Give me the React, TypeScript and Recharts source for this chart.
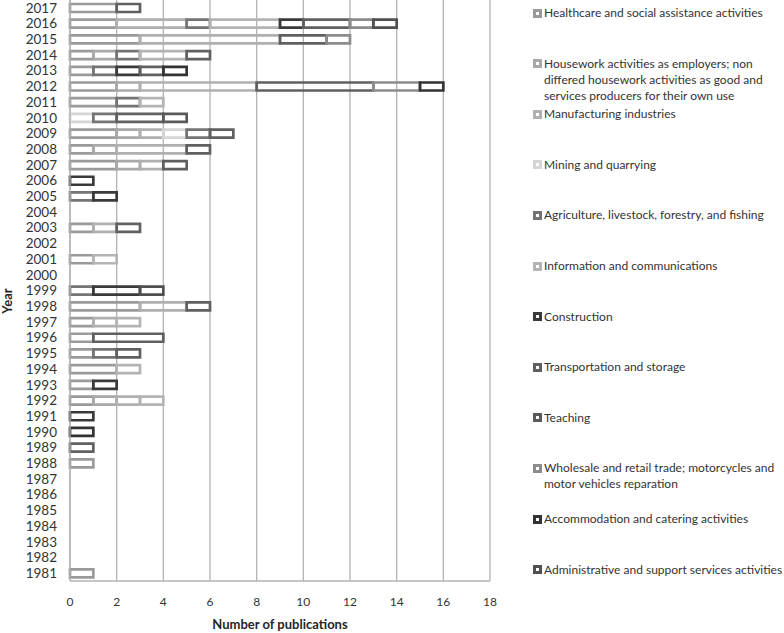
import React from "react";
import {
  BarChart,
  Bar,
  XAxis,
  YAxis,
  CartesianGrid,
  Legend,
} from "recharts";

// years 1981..2017, index 0 = 1981
const years = Array.from({ length: 37 }, (_, i) => String(1981 + i));

// publications per year and sector
const healthcare = [
  1, 0, 0, 0, 0, 0, 0, 1, 0, 0,
  0, 1, 1, 2, 1, 1, 1, 3, 0, 0,
  1, 0, 1, 0, 0, 0, 2, 1, 2, 0,
  2, 2, 1, 1, 3, 2, 2,
];
const housework = [
  0, 0, 0, 0, 0, 0, 0, 0, 0, 0,
  0, 1, 0, 0, 0, 0, 0, 0, 0, 0,
  0, 0, 0, 0, 0, 0, 1, 1, 1, 0,
  0, 1, 0, 1, 0, 0, 0,
];
const manufacturing = [
  0, 0, 0, 0, 0, 0, 0, 0, 0, 0,
  0, 1, 0, 0, 0, 0, 1, 2, 0, 0,
  0, 0, 1, 0, 0, 0, 1, 3, 1, 0,
  0, 5, 0, 0, 6, 3, 0,
];
const mining = [
  0, 0, 0, 0, 0, 0, 0, 0, 0, 0,
  0, 0, 0, 0, 0, 0, 0, 0, 0, 0,
  0, 0, 0, 0, 0, 0, 0, 0, 1, 1,
  0, 0, 0, 0, 0, 0, 0,
];
const agriculture = [
  0, 0, 0, 0, 0, 0, 0, 0, 0, 0,
  0, 0, 0, 0, 1, 0, 0, 0, 1, 0,
  0, 0, 0, 0, 1, 0, 0, 0, 1, 1,
  1, 0, 1, 1, 0, 1, 0,
];
const information = [
  0, 0, 0, 0, 0, 0, 0, 0, 0, 0,
  0, 1, 0, 1, 0, 0, 1, 0, 0, 0,
  1, 0, 0, 0, 0, 0, 0, 0, 0, 0,
  1, 0, 0, 2, 0, 3, 0,
];
const construction = [
  0, 0, 0, 0, 0, 0, 0, 0, 0, 0,
  1, 0, 1, 0, 0, 0, 0, 0, 2, 0,
  0, 0, 0, 0, 1, 1, 0, 0, 0, 0,
  0, 0, 1, 0, 0, 1, 0,
];
const transportation = [
  0, 0, 0, 0, 0, 0, 0, 0, 1, 0,
  0, 0, 0, 0, 1, 3, 0, 1, 0, 0,
  0, 0, 1, 0, 0, 0, 1, 1, 1, 2,
  0, 5, 1, 1, 2, 2, 1,
];
const teaching = [
  0, 0, 0, 0, 0, 0, 0, 0, 0, 0,
  0, 0, 0, 0, 0, 0, 0, 0, 0, 0,
  0, 0, 0, 0, 0, 0, 0, 0, 0, 1,
  0, 0, 0, 0, 0, 0, 0,
];
const wholesale = [
  0, 0, 0, 0, 0, 0, 0, 0, 0, 0,
  0, 0, 0, 0, 0, 0, 0, 0, 0, 0,
  0, 0, 0, 0, 0, 0, 0, 0, 0, 0,
  0, 2, 0, 0, 1, 1, 0,
];
const accommodation = [
  0, 0, 0, 0, 0, 0, 0, 0, 0, 1,
  0, 0, 0, 0, 0, 0, 0, 0, 0, 0,
  0, 0, 0, 0, 0, 0, 0, 0, 0, 0,
  0, 1, 1, 0, 0, 0, 0,
];
const administrative = [
  0, 0, 0, 0, 0, 0, 0, 0, 0, 0,
  0, 0, 0, 0, 0, 0, 0, 0, 1, 0,
  0, 0, 0, 0, 0, 0, 0, 0, 0, 0,
  0, 0, 0, 0, 0, 1, 0,
];

const xTicks = [0, 2, 4, 6, 8, 10, 12, 14, 16, 18];

const SERIES = [
  { key: "healthcare", name: "Healthcare and social assistance activities", values: healthcare, color: "#9a9a9a" },
  { key: "housework", name: "Housework activities as employers; non differed housework activities as good and services producers for their own use", values: housework, color: "#a8a8a8" },
  { key: "manufacturing", name: "Manufacturing industries", values: manufacturing, color: "#b0b0b0" },
  { key: "mining", name: "Mining and quarrying", values: mining, color: "#d6d6d6" },
  { key: "agriculture", name: "Agriculture, livestock, forestry, and fishing", values: agriculture, color: "#747474" },
  { key: "information", name: "Information and communications", values: information, color: "#b4b4b4" },
  { key: "construction", name: "Construction", values: construction, color: "#3a3a3a" },
  { key: "transportation", name: "Transportation and storage", values: transportation, color: "#606060" },
  { key: "teaching", name: "Teaching", values: teaching, color: "#5a5a5a" },
  { key: "wholesale", name: "Wholesale and retail trade; motorcycles and motor vehicles reparation", values: wholesale, color: "#8c8c8c" },
  { key: "accommodation", name: "Accommodation and catering activities", values: accommodation, color: "#333333" },
  { key: "administrative", name: "Administrative and support services activities", values: administrative, color: "#505050" },
];

const data = years.map((year, i) => {
  const row: Record<string, string | number> = { year };
  SERIES.forEach((s) => {
    row[s.key] = s.values[i];
  });
  return row;
});

const FONT = "Lato, 'Open Sans', sans-serif";

const LegendBox = () => (
  <div style={{ position: "relative", width: 259, height: 633, fontFamily: FONT, fontSize: 12, color: "#333" }}>
    {SERIES.map((s, i) => (
      <div
        key={s.key}
        style={{
          position: "absolute",
          left: 8,
          top: 5 + i * 50.6,
          display: "flex",
          alignItems: "flex-start",
          lineHeight: "16px",
          width: 252,
        }}
      >
        <span
          style={{
            width: 3,
            height: 3,
            border: `3px solid ${s.color}`,
            background: "#fff",
            marginTop: 3.5,
            marginRight: 2,
            flex: "none",
          }}
        />
        <span>{s.name}</span>
      </div>
    ))}
  </div>
);

const YearLabel = () => (
  <text
    x={12}
    y={301}
    transform="rotate(-90 12 301)"
    textAnchor="middle"
    fontFamily={FONT}
    fontWeight="bold"
    fontSize={13}
    fill="#262626"
  >
    Year
  </text>
);

export default function App() {
  return (
    <div style={{ position: "absolute", left: 0, top: 0, background: "#fff" }}>
      <BarChart
        width={784}
        height={633}
        data={data}
        layout="vertical"
        margin={{ top: 0, right: 294, bottom: 0, left: 0 }}
      >
        <CartesianGrid horizontal={false} stroke="#b3b3b3" strokeWidth={1.3} />
        <XAxis
          type="number"
          domain={[0, 18]}
          ticks={xTicks}
          interval={0}
          height={52}
          tickLine={false}
          tickSize={0}
          tickMargin={16}
          axisLine={{ stroke: "#b3b3b3", strokeWidth: 1.3 }}
          tick={{ fontFamily: FONT, fontSize: 12, fill: "#333" }}
          label={{
            value: "Number of publications",
            position: "insideBottom",
            offset: 4,
            style: { fontFamily: FONT, fontWeight: "bold", fontSize: 13, fill: "#262626" },
          }}
        />
        <YAxis
          type="category"
          dataKey="year"
          reversed
          interval={0}
          width={70}
          tickLine={false}
          tickSize={0}
          tickMargin={13}
          axisLine={{ stroke: "#b3b3b3", strokeWidth: 1.3 }}
          tick={{ fontFamily: FONT, fontSize: 13.5, fill: "#333" }}
          label={<YearLabel />}
        />
        <Legend
          layout="horizontal"
          verticalAlign="middle"
          align="center"
          wrapperStyle={{ left: 525, top: 0, width: 259, height: 633 }}
          content={() => <LegendBox />}
        />
        {SERIES.map((s) => (
          <Bar
            key={s.key}
            dataKey={s.key}
            name={s.name}
            stackId="pubs"
            fill="none"
            stroke={s.color}
            strokeWidth={2.7}
            barSize={8}
            isAnimationActive={false}
          />
        ))}
      </BarChart>
    </div>
  );
}
